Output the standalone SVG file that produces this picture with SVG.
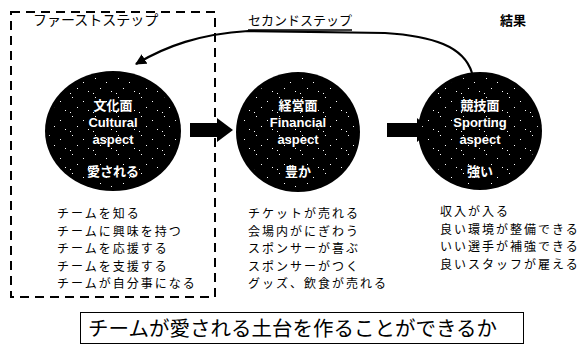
<svg xmlns="http://www.w3.org/2000/svg" width="587" height="344" viewBox="0 0 587 344">
<style>
.jp{font-family:"Noto Sans CJK JP","Liberation Sans",sans-serif;fill:#000}
.lab{font-family:"Liberation Sans","Noto Sans CJK JP",sans-serif;font-weight:bold;fill:#fff;font-size:13px;text-anchor:middle}
.li{font-family:"Noto Sans CJK JP",sans-serif;font-size:12px;letter-spacing:2px;fill:#000}
.blob{fill:#000}
.spk{fill:url(#speckle)}
</style>
<defs>
<marker id="ah" viewBox="0 0 10 10" refX="9" refY="5" markerWidth="5" markerHeight="5" orient="auto" markerUnits="strokeWidth">
<path d="M0,0 L10,5 L0,10 z" fill="#000"/>
</marker>
<pattern id="speckle" width="23" height="19" patternUnits="userSpaceOnUse">
<rect x="3" y="2" width="1" height="1" fill="#fff"/>
<rect x="14" y="6" width="1" height="1" fill="#fff"/>
<rect x="8" y="12" width="1" height="1" fill="#fff"/>
<rect x="19" y="15" width="1" height="1" fill="#fff"/>
<rect x="1" y="17" width="1" height="1" fill="#fff"/>
</pattern>
</defs>
<rect width="587" height="344" fill="#fff"/>
<g id="first-step">
<rect x="11" y="12" width="204" height="285" fill="none" stroke="#000" stroke-width="2" stroke-dasharray="9,6"/>
<text class="jp" x="33" y="25" font-size="14">ファーストステップ</text>
</g>
<g id="second-step">
<text class="jp" x="248" y="25" font-size="13">セカンドステップ</text>
</g>
<g id="result">
<text class="jp" x="500" y="25" font-size="13" font-weight="bold">結果</text>
</g>
<g id="connectors">
<path d="M472,73 C464,46 432,36 385,33 L248,31 C200,34 166,46 136,64" fill="none" stroke="#000" stroke-width="2.2" marker-end="url(#ah)"/>
<line x1="248" y1="30" x2="352" y2="30" stroke="#000" stroke-width="1.3"/>
<path d="M190,123 L217,123 L217,118 L233,130 L217,142 L217,137 L190,137 z" fill="#000"/>
<path d="M387,123 L417,123 L417,118 L431,130 L417,142 L417,137 L387,137 z" fill="#000"/>
</g>
<g id="cultural">
<ellipse class="blob" cx="113" cy="131" rx="68" ry="60"/>
<ellipse class="spk" cx="113" cy="131" rx="64" ry="56"/>
<text class="lab" x="113" y="110">文化面</text>
<text class="lab" x="113" y="127">Cultural</text>
<text class="lab" x="113" y="144">aspect</text>
<text class="lab" x="113" y="176">愛される</text>
</g>
<g id="financial">
<ellipse class="blob" cx="298" cy="132" rx="62" ry="60"/>
<ellipse class="spk" cx="298" cy="132" rx="58" ry="56"/>
<text class="lab" x="298" y="110">経営面</text>
<text class="lab" x="298" y="127">Financial</text>
<text class="lab" x="298" y="144">aspect</text>
<text class="lab" x="298" y="176">豊か</text>
</g>
<g id="sporting">
<ellipse class="blob" cx="480" cy="131" rx="62" ry="59"/>
<ellipse class="spk" cx="480" cy="131" rx="58" ry="55"/>
<text class="lab" x="480" y="110">競技面</text>
<text class="lab" x="480" y="127">Sporting</text>
<text class="lab" x="480" y="144">aspect</text>
<text class="lab" x="480" y="176">強い</text>
</g>
<g id="list-cultural">
<text class="li" x="57" y="218">チームを知る</text>
<text class="li" x="57" y="235.5">チームに興味を持つ</text>
<text class="li" x="57" y="253">チームを応援する</text>
<text class="li" x="57" y="270.5">チームを支援する</text>
<text class="li" x="57" y="288">チームが自分事になる</text>
</g>
<g id="list-financial">
<text class="li" x="248" y="218">チケットが売れる</text>
<text class="li" x="248" y="235.5">会場内がにぎわう</text>
<text class="li" x="248" y="253">スポンサーが喜ぶ</text>
<text class="li" x="248" y="270.5">スポンサーがつく</text>
<text class="li" x="248" y="288">グッズ、飲食が売れる</text>
</g>
<g id="list-sporting">
<text class="li" x="440" y="216">収入が入る</text>
<text class="li" x="440" y="233.5">良い環境が整備できる</text>
<text class="li" x="440" y="251">いい選手が補強できる</text>
<text class="li" x="440" y="268.5">良いスタッフが雇える</text>
</g>
<g id="foundation">
<rect x="80.5" y="312.5" width="443" height="31" fill="#fff" stroke="#000" stroke-width="1"/>
<text class="jp" x="88" y="336" font-size="20.5">チームが愛される土台を作ることができるか</text>
</g>
</svg>
